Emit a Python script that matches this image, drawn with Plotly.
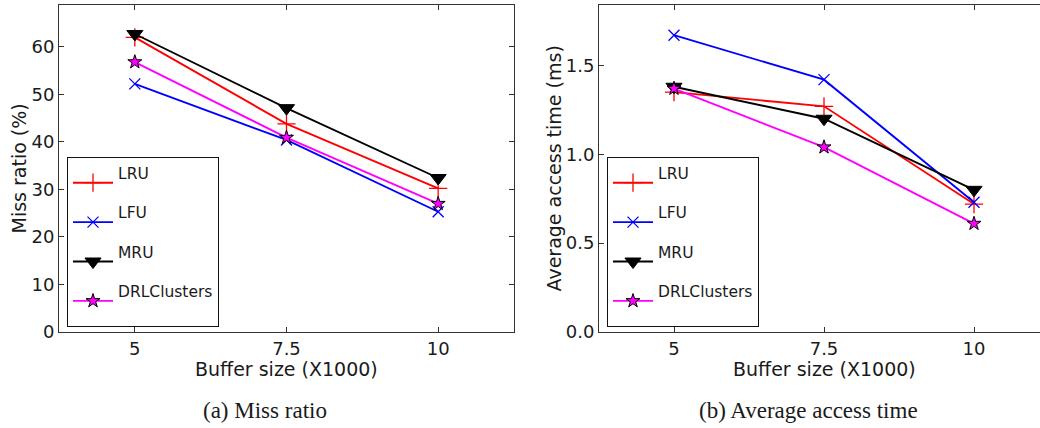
import plotly.graph_objects as go

W, H = 1040, 428

buffer_sizes = [5, 7.5, 10]
tick_labels = ["5", "7.5", "10"]
series_names = ["LRU", "LFU", "MRU", "DRLClusters"]

miss_lru = [62.0, 43.8, 30.2]
miss_lfu = [52.2, 40.4, 25.3]
miss_mru = [62.7, 47.1, 32.4]
miss_drl = [56.8, 40.9, 27.0]

acc_lru = [1.35, 1.27, 0.72]
acc_lfu = [1.67, 1.42, 0.73]
acc_mru = [1.38, 1.20, 0.80]
acc_drl = [1.37, 1.04, 0.61]

styles = {
    "LRU": dict(color="#ff0000", symbol="cross-thin", size=13, lc="#ff0000", lw=1.3),
    "LFU": dict(color="#0000ff", symbol="x-thin", size=11, lc="#0000ff", lw=1.3),
    "MRU": dict(color="#000000", symbol="triangle-down", size=14, lc="#000000", lw=1),
    "DRLClusters": dict(color="#ff00ff", symbol="star", size=10.5, lc="#000000", lw=1),
}

FONT = "DejaVu Sans"

def px_x(p):
    return p / W

def px_y(p):
    return 1 - p / H

fig = go.Figure()

left = {"LRU": miss_lru, "LFU": miss_lfu, "MRU": miss_mru, "DRLClusters": miss_drl}
right = {"LRU": acc_lru, "LFU": acc_lfu, "MRU": acc_mru, "DRLClusters": acc_drl}

def legend_label(name):
    return "<span style='font-size:15.5px'>" + name + "</span><br>\u00a0"

for legend_id, xa, ya, data in (("legend", "x", "y", left), ("legend2", "x2", "y2", right)):
    for name in series_names:
        s = styles[name]
        fig.add_trace(go.Scatter(
            x=buffer_sizes, y=data[name], mode="lines+markers", name=legend_label(name),
            xaxis=xa, yaxis=ya, legend=legend_id,
            line=dict(color=s["color"], width=1.9),
            marker=dict(symbol=s["symbol"], size=s["size"], color=s["color"],
                        line=dict(color=s["lc"], width=s["lw"])),
        ))

axis_common = dict(
    showgrid=False, zeroline=False, showline=True, linecolor="#333333", linewidth=1,
    ticks="inside", ticklen=5, tickcolor="#333333", tickwidth=1, automargin=False,
    tickfont=dict(family=FONT, size=18, color="#1a1a1a"),
)

ydom = [px_y(332), px_y(5)]

legend_common = dict(
    xanchor="left", yanchor="top", bgcolor="white", bordercolor="#111111", borderwidth=1,
    font=dict(family=FONT, size=14, color="#1a1a1a"), valign="middle", tracegroupgap=0,
    itemwidth=40,
)

fig.update_layout(
    template="none",
    width=W, height=H,
    margin=dict(l=0, r=0, t=0, b=0, pad=0, autoexpand=False),
    paper_bgcolor="white", plot_bgcolor="white",
    showlegend=True,
    xaxis=dict(domain=[px_x(59), px_x(514)], range=[3.75, 11.25],
               tickvals=buffer_sizes, ticktext=tick_labels, mirror="ticks",
               anchor="y", **axis_common),
    yaxis=dict(domain=ydom, range=[0, 68.8], tickvals=[0, 10, 20, 30, 40, 50, 60],
               mirror="ticks", anchor="x", **axis_common),
    xaxis2=dict(domain=[px_x(599), 1.0], range=[3.75, 11.1],
                tickvals=buffer_sizes, ticktext=tick_labels, mirror="ticks",
                anchor="y2", **axis_common),
    yaxis2=dict(domain=ydom, range=[0, 1.84], tickvals=[0, 0.5, 1.0, 1.5],
                tickformat=".1f", mirror=False, anchor="x2", **axis_common),
    legend=dict(x=px_x(67), y=px_y(157), **legend_common),
    legend2=dict(x=px_x(607), y=px_y(157), **legend_common),
)

title_font = dict(family=FONT, size=19, color="#1a1a1a")
cap_font = dict(family="Liberation Serif", size=23, color="#1a1a1a")
annotations = [
    dict(text="Miss ratio (%)", x=px_x(18), y=px_y(168.5), textangle=-90, font=title_font),
    dict(text="Buffer size (X1000)", x=px_x(286.5), y=px_y(369), font=title_font),
    dict(text="Average access time (ms)", x=px_x(553), y=px_y(168.5), textangle=-90, font=title_font),
    dict(text="Buffer size (X1000)", x=px_x(824), y=px_y(369), font=title_font),
    dict(text="(a) Miss ratio", x=px_x(264.5), y=px_y(410), font=cap_font),
    dict(text="(b) Average access time", x=px_x(808), y=px_y(410), font=cap_font),
]
for a in annotations:
    a.update(xref="paper", yref="paper", showarrow=False, xanchor="center", yanchor="middle")
fig.update_layout(annotations=annotations)

fig.write_html(
    "out.html",
    config={"displayModeBar": False},
    post_script="document.body.style.margin='0px';document.body.style.overflow='hidden';",
)
